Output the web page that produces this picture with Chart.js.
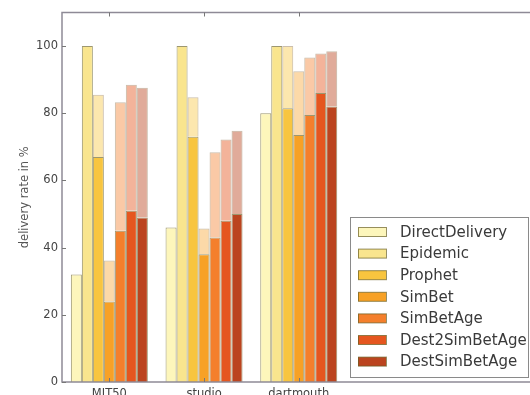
<!DOCTYPE html>
<html lang="en"><head>
  <meta charset="UTF-8">
  <title>Delivery rate</title>
  <script src="https://cdn.jsdelivr.net/npm/chart.js"></script>
  <style>
    html, body { margin: 0; padding: 0; background: #fff; overflow: hidden; }
    #wrap { width: 545px; height: 395px; position: relative; }
  </style>
</head><body>
<div id="wrap"><canvas id="chart"></canvas></div>
<script>
    // traces on the x axis (the two blank ones keep the empty space on the right)
    const traces = ['MIT50', 'studio', 'dartmouth', '', ''];
    const routers = ['DirectDelivery', 'Epidemic', 'Prophet', 'SimBet', 'SimBetAge', 'Dest2SimBetAge', 'DestSimBetAge'];

    // solid bars
    const ddSolid = [32, 46, 80];
    const epiSolid = [100, 100, 100];
    const prophetSolid = [67, 73, 81.5];
    const simbetSolid = [24, 38, 73.5];
    const simbetAgeSolid = [45, 43, 79.5];
    const dest2Solid = [51, 48, 86];
    const destSolid = [49, 50, 82];

    // light bars (total height), only for the last five
    const prophetTotal = [85.5, 84.8, 100];
    const simbetTotal = [36.2, 45.7, 92.5];
    const simbetAgeTotal = [83.3, 68.4, 96.6];
    const dest2Total = [88.5, 72.2, 97.8];
    const destTotal = [87.6, 74.8, 98.5];

    const yTicks = [0, 20, 40, 60, 80, 100];

    const solids = [ddSolid, epiSolid, prophetSolid, simbetSolid, simbetAgeSolid, dest2Solid, destSolid];
    const totals = [null, null, prophetTotal, simbetTotal, simbetAgeTotal, dest2Total, destTotal];

    const colors = ['#fdf6bb', '#f9e58e', '#f8c53f', '#f7a126', '#f47f2c', '#e5561f', '#bb441f'];
    const lightColors = ['', '', 'rgba(248,197,63,0.42)', 'rgba(247,161,38,0.4)', 'rgba(244,127,44,0.42)',
                         'rgba(229,86,31,0.45)', 'rgba(187,68,31,0.45)'];

    const datasets = [];
    routers.forEach((name, i) => {
      datasets.push({
        label: name,
        data: solids[i],
        stack: name,
        backgroundColor: colors[i],
        borderColor: 'rgba(105,95,35,0.65)',
        borderWidth: 1
      });
    });
    routers.forEach((name, i) => {
      if (!totals[i]) return;
      datasets.push({
        label: name + ' (all)',
        data: totals[i].map((v, k) => v - solids[i][k]),
        stack: name,
        backgroundColor: lightColors[i],
        borderColor: 'rgba(140,110,70,0.45)',
        borderWidth: 1
      });
    });

    // frame, inward tick marks and the legend box
    const framePlugin = {
      id: 'frame',
      afterDraw(chart) {
        const { ctx, chartArea: a } = chart;
        const y = chart.scales.y, x = chart.scales.x;
        ctx.save();
        ctx.strokeStyle = '#8e8a96';
        ctx.lineWidth = 1.5;
        ctx.strokeRect(a.left, a.top, a.right - a.left, a.bottom - a.top);
        ctx.lineWidth = 1;
        ctx.strokeStyle = '#777';
        yTicks.forEach(t => {
          const py = Math.round(y.getPixelForValue(t)) + 0.5;
          ctx.beginPath(); ctx.moveTo(a.left, py); ctx.lineTo(a.left + 4, py); ctx.stroke();
        });
        [0, 1, 2].forEach(k => {
          const px = Math.round(x.getPixelForValue(k)) + 0.5;
          ctx.beginPath(); ctx.moveTo(px, a.top); ctx.lineTo(px, a.top + 4); ctx.stroke();
          ctx.beginPath(); ctx.moveTo(px, a.bottom); ctx.lineTo(px, a.bottom - 4); ctx.stroke();
        });

        // legend
        const lx = 350, ly = 217, lw = 178, lh = 160;
        ctx.fillStyle = '#fff';
        ctx.fillRect(lx, ly, lw, lh);
        ctx.strokeStyle = '#8a8a8a';
        ctx.strokeRect(lx + 0.5, ly + 0.5, lw, lh);
        ctx.font = '15px "DejaVu Sans", sans-serif';
        ctx.textBaseline = 'middle';
        routers.forEach((name, i) => {
          const ry = 232 + i * 21.6;
          ctx.fillStyle = colors[i];
          ctx.fillRect(358, ry - 4.5, 28, 9);
          ctx.strokeStyle = 'rgba(105,95,35,0.7)';
          ctx.strokeRect(358.5, ry - 4.5, 28, 9);
          ctx.fillStyle = '#3a3a3a';
          ctx.fillText(name, 400, ry + 1);
        });
        ctx.restore();
      }
    };

    const ctx = document.getElementById('chart').getContext('2d');
    const chart = new Chart(ctx, {
      type: 'bar',
      data: { labels: traces, datasets: datasets },
      options: {
        responsive: true,
        maintainAspectRatio: false,
        animation: false,
        layout: { padding: { top: 12.5, right: 9.5, left: 0, bottom: 0 } },
        datasets: { bar: { barPercentage: 1, categoryPercentage: 0.813 } },
        plugins: {
          legend: { display: false },
          tooltip: { enabled: false }
        },
        scales: {
          x: {
            stacked: true,
            grid: { display: false },
            border: { display: false },
            ticks: { color: '#444', font: { family: 'DejaVu Sans', size: 11.5 }, padding: -3, maxRotation: 0 },
            afterFit(scale) { scale.height = 13; }
          },
          y: {
            stacked: true,
            min: 0,
            max: 110,
            grid: { display: false },
            border: { display: false },
            afterBuildTicks(scale) { scale.ticks = yTicks.map(v => ({ value: v })); },
            ticks: { color: '#444', font: { family: 'DejaVu Sans', size: 11.5 }, padding: -4 },
            title: {
              display: true,
              text: 'delivery rate in %',
              color: '#555',
              font: { family: 'DejaVu Sans', size: 11.5 },
              padding: { top: 18, bottom: 0 }
            },
            afterFit(scale) { scale.width = 62; }
          }
        }
      },
      plugins: [framePlugin]
    });
  </script>
</body></html>
